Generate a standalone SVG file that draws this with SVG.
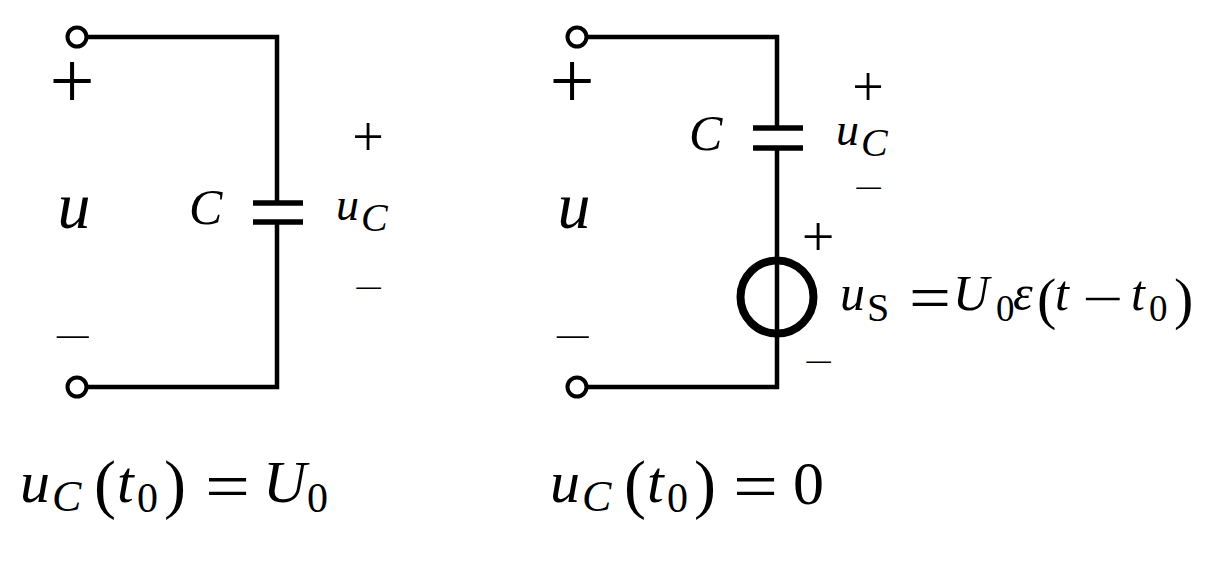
<svg xmlns="http://www.w3.org/2000/svg" width="1210" height="580" viewBox="0 0 1210 580" font-family="'Liberation Serif', 'Times New Roman', serif">
<style>
.w{fill:none;stroke:#000;stroke-width:4.5}
.plate{stroke:#000;stroke-width:5.5}
.term{fill:#fff;stroke:#000;stroke-width:4}
.src{fill:none;stroke:#000;stroke-width:8}
text{font-family:'Liberation Serif','Times New Roman',serif;fill:#000}
.i{font-style:italic}
.op{text-anchor:middle}
</style>
<rect width="1210" height="580" fill="#fff"/>

<g id="connectors">
<path class="w" d="M86,37 H277 V203"/>
<path class="w" d="M277,222 V387 H86"/>
<path class="w" d="M586,37 H777 V128"/>
<path class="w" d="M777,148 V387 H586"/>
</g>

<g id="left-capacitor">
<line class="plate" x1="253" y1="203" x2="303" y2="203"/>
<line class="plate" x1="253" y1="222" x2="303" y2="222"/>
</g>
<g id="left-terminal-top"><circle class="term" cx="77" cy="37" r="9.5"/></g>
<g id="left-terminal-bottom"><circle class="term" cx="77" cy="387" r="9.5"/></g>

<g id="right-capacitor">
<line class="plate" x1="753" y1="128" x2="803" y2="128"/>
<line class="plate" x1="753" y1="148" x2="803" y2="148"/>
</g>
<g id="right-source"><circle class="src" cx="777" cy="297" r="36.5"/></g>
<g id="right-terminal-top"><circle class="term" cx="577" cy="37" r="9.5"/></g>
<g id="right-terminal-bottom"><circle class="term" cx="577" cy="387" r="9.5"/></g>

<g id="left-labels">
<text class="op" x="72" y="108" font-size="80">+</text>
<text class="i op" x="74" y="228" font-size="66">u</text>
<text x="53" y="349" font-size="36" textLength="39" lengthAdjust="spacingAndGlyphs">−</text>
<text class="i" x="189" y="224" font-size="50">C</text>
<text class="i"><tspan x="336" y="220" font-size="46">u</tspan><tspan x="361" y="231" font-size="40">C</tspan></text>
<text class="op" x="368" y="156" font-size="56">+</text>
<text x="354" y="298" font-size="30" textLength="30" lengthAdjust="spacingAndGlyphs">−</text>
</g>

<g id="right-labels">
<text class="op" x="572" y="108" font-size="80">+</text>
<text class="i op" x="574" y="228" font-size="66">u</text>
<text x="553" y="349" font-size="36" textLength="39" lengthAdjust="spacingAndGlyphs">−</text>
<text class="i" x="689" y="150" font-size="50">C</text>
<text class="i"><tspan x="836" y="145" font-size="46">u</tspan><tspan x="861" y="156" font-size="40">C</tspan></text>
<text class="op" x="868" y="106" font-size="56">+</text>
<text x="854" y="198" font-size="30" textLength="30" lengthAdjust="spacingAndGlyphs">−</text>
<text class="op" x="818" y="256" font-size="58">+</text>
<text x="804" y="372" font-size="30" textLength="30" lengthAdjust="spacingAndGlyphs">−</text>
</g>

<g id="source-label">
<text class="i" x="840" y="310" font-size="50">u</text>
<text x="867" y="321" font-size="40">S</text>
<text x="909" y="319" font-size="64" textLength="42" lengthAdjust="spacingAndGlyphs">=</text>
<text class="i" x="953" y="310" font-size="50">U</text>
<text x="996" y="321" font-size="37">0</text>
<text class="i" x="1013" y="310" font-size="50">ε</text>
<text x="1037" y="318" font-size="58">(</text>
<text class="i" x="1055" y="310" font-size="50">t</text>
<text x="1082" y="315" font-size="48" textLength="41" lengthAdjust="spacingAndGlyphs">−</text>
<text class="i" x="1131" y="310" font-size="50">t</text>
<text x="1149" y="321" font-size="37">0</text>
<text x="1174" y="318" font-size="58">)</text>
</g>

<g id="left-condition">
<text class="i" x="20" y="502" font-size="60">u</text>
<text class="i" x="52" y="511" font-size="44">C</text>
<text x="94" y="506" font-size="66">(</text>
<text class="i" x="117" y="502" font-size="60">t</text>
<text x="137" y="512" font-size="42">0</text>
<text x="164" y="506" font-size="66">)</text>
<text x="205" y="509" font-size="68" textLength="45" lengthAdjust="spacingAndGlyphs">=</text>
<text class="i" x="263" y="502" font-size="60">U</text>
<text x="307" y="512" font-size="42">0</text>
</g>

<g id="right-condition">
<text class="i" x="550" y="502" font-size="60">u</text>
<text class="i" x="582" y="511" font-size="44">C</text>
<text x="624" y="506" font-size="66">(</text>
<text class="i" x="647" y="502" font-size="60">t</text>
<text x="667" y="512" font-size="42">0</text>
<text x="694" y="506" font-size="66">)</text>
<text x="733" y="509" font-size="68" textLength="45" lengthAdjust="spacingAndGlyphs">=</text>
<text x="793" y="504" font-size="62">0</text>
</g>
</svg>
